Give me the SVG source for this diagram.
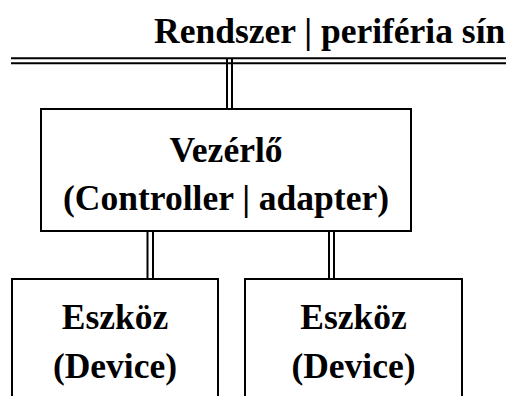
<svg xmlns="http://www.w3.org/2000/svg" width="512" height="396" viewBox="0 0 512 396" font-family="Liberation Serif, Times New Roman, serif" font-weight="bold" font-size="35.5">
  <defs>
    <!-- shared box outline -->
    <rect id="ctrlBox" x="41" y="109" width="370" height="122" fill="#ffffff" stroke="#000000" stroke-width="2"/>
  </defs>
  <rect width="512" height="396" fill="#ffffff"/>

  <!-- system / peripheral bus -->
  <g id="bus" stroke="#000000" stroke-width="2">
    <text x="154" y="42.5" stroke="none" fill="#000000">Rendszer | periféria sín</text>
    <line x1="11" y1="58.3" x2="506" y2="58.3"/>
    <line x1="11" y1="63.3" x2="506" y2="63.3"/>
  </g>

  <!-- double-line links -->
  <g id="connectors" stroke="#000000" stroke-width="2" fill="none">
    <line x1="227" y1="59" x2="227" y2="109"/>
    <line x1="232" y1="59" x2="232" y2="109"/>
    <line x1="147.5" y1="231" x2="147.5" y2="279"/>
    <line x1="153" y1="231" x2="153" y2="279"/>
    <line x1="329" y1="230" x2="329" y2="279"/>
    <line x1="334" y1="230" x2="334" y2="279"/>
  </g>

  <g id="controller" text-anchor="middle" fill="#000000">
    <use href="#ctrlBox"/>
    <text x="226" y="161.5">Vezérlő</text>
    <text x="226" y="210">(Controller | adapter)</text>
  </g>

  <g id="device1" text-anchor="middle">
    <rect x="12" y="279" width="206" height="130" fill="#ffffff" stroke="#000000" stroke-width="2"/>
    <text x="115" y="329" fill="#000000">Eszköz</text>
    <text x="115" y="378" fill="#000000">(Device)</text>
  </g>

  <g id="device2" text-anchor="middle">
    <rect x="245" y="279" width="217" height="130" fill="#ffffff" stroke="#000000" stroke-width="2"/>
    <text x="353.5" y="329" fill="#000000">Eszköz</text>
    <text x="353.5" y="378" fill="#000000">(Device)</text>
  </g>
</svg>
